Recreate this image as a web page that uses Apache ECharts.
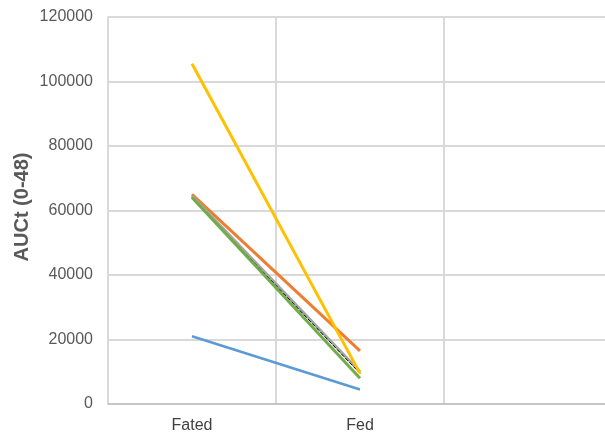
<!DOCTYPE html>
<html><head><meta charset="utf-8">
<script src="https://cdn.jsdelivr.net/npm/echarts@6/dist/echarts.min.js"></script>
<style>html,body{margin:0;padding:0;background:#fff}#c{width:605px;height:439px}</style>
</head><body><div id="c"></div>
<script>
const categories = ['Fated', 'Fed', ''];
const blueSeries = [21000, 4500];
const orangeSeries = [65000, 16500];
const graySeries = [64500, 10000];
const blackSeries = [64000, 9500];
const yellowSeries = [105500, 9500];
const greenSeries = [64000, 8000];
const yTicks = [0, 20000, 40000, 60000, 80000, 100000, 120000];

const chart = echarts.init(document.getElementById('c'));
const mk = (name, data, color, width, type) => ({
  name, type: 'line', data, symbol: 'none', silent: true,
  lineStyle: { color, width, type: type || 'solid' }
});
chart.setOption({
  animation: false,
  grid: { left: 108, top: 17, bottom: 35, right: -7, outerBoundsMode: 'none', containLabel: false },
  xAxis: {
    type: 'category', data: categories, boundaryGap: true,
    axisLine: { lineStyle: { color: '#bfbfbf', width: 1.5 } },
    axisTick: { show: false },
    axisLabel: { color: '#404040', fontFamily: 'Liberation Sans', fontSize: 16, margin: 14 },
    splitLine: { show: true, lineStyle: { color: '#d9d9d9', width: 2 } }
  },
  yAxis: {
    type: 'value', min: yTicks[0], max: yTicks[yTicks.length - 1], interval: 20000,
    name: 'AUCt (0-48)', nameLocation: 'middle', nameGap: 76, nameMoveOverlap: false,
    nameTextStyle: { color: '#595959', fontFamily: 'Liberation Sans', fontSize: 20, fontWeight: 'bold', padding: [0, 0, 0, 7] },
    axisLine: { show: true, lineStyle: { color: '#d9d9d9', width: 1.5 } },
    axisTick: { show: false },
    axisLabel: { color: '#595959', fontFamily: 'Liberation Sans', fontSize: 16, margin: 15,
      formatter: v => String(v) },
    splitLine: { lineStyle: { color: '#d9d9d9', width: 2 } }
  },
  series: [
    mk('S1', blueSeries, '#5B9BD5', 2.5),
    mk('S2', orangeSeries, '#ED7D31', 3),
    mk('S3', graySeries, '#A5A5A5', 3),
    mk('S4', blackSeries, '#000000', 1, 'dashed'),
    mk('S5', yellowSeries, '#FFC000', 3),
    mk('S6', greenSeries, '#70AD47', 3)
  ]
});
</script></body></html>
